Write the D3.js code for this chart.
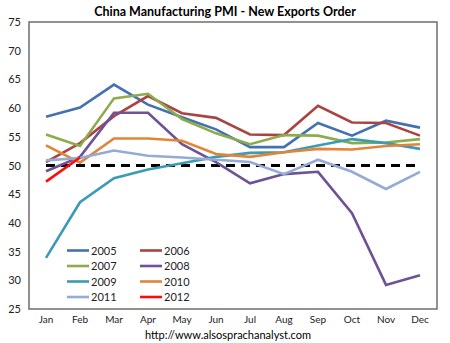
<!DOCTYPE html>
<html>
<head>
<meta charset="utf-8">
<script src="https://cdn.jsdelivr.net/npm/d3@7"></script>
<style>
  html, body { margin: 0; padding: 0; background: #fff; }
  svg { display: block; }
  text { font-family: Lato, "Open Sans", sans-serif; fill: #222; }
</style>
</head>
<body>
<svg id="chart" width="450" height="343"></svg>
<script>
// China manufacturing PMI, new export orders sub-index, by month and year
const months = ["Jan", "Feb", "Mar", "Apr", "May", "Jun", "Jul", "Aug", "Sep", "Oct", "Nov", "Dec"];
const yTicks = [25, 30, 35, 40, 45, 50, 55, 60, 65, 70, 75];

const s2005 = [58.5, 60.1, 64.1, 60.6, 58.4, 56.3, 53.2, 53.2, 57.4, 55.2, 57.8, 56.6];
const s2006 = [50.6, 53.9, 58.6, 62.1, 59.1, 58.3, 55.4, 55.3, 60.4, 57.5, 57.4, 55.2];
const s2007 = [55.4, 53.4, 61.7, 62.5, 58.1, 55.6, 53.7, 55.3, 55.2, 53.9, 54.0, 54.6];
const s2008 = [49.0, 51.5, 59.2, 59.2, 53.7, 50.6, 46.9, 48.5, 48.9, 41.7, 29.2, 30.9];
const s2009 = [33.9, 43.6, 47.8, 49.3, 50.4, 51.5, 52.2, 52.3, 53.5, 54.6, 53.9, 52.9];
const s2010 = [53.5, 50.5, 54.7, 54.7, 54.3, 52.0, 51.5, 52.3, 52.9, 52.8, 53.4, 53.7];
const s2011 = [50.9, 51.3, 52.6, 51.7, 51.4, 51.0, 50.6, 48.5, 51.0, 48.9, 45.9, 48.9];
const s2012 = [47.2, 51.4];
const threshold = 50;

const series = [
  { name: "2005", values: s2005, color: "#4471b0" },
  { name: "2006", values: s2006, color: "#ab4441" },
  { name: "2007", values: s2007, color: "#8cac4c" },
  { name: "2008", values: s2008, color: "#6d5296" },
  { name: "2009", values: s2009, color: "#3c9bb3" },
  { name: "2010", values: s2010, color: "#e0853a" },
  { name: "2011", values: s2011, color: "#93abd6" },
  { name: "2012", values: s2012, color: "#ff0a0a" }
];

const svg = d3.select("#chart");
const plot = { left: 29, right: 437, top: 22, bottom: 309 };

const x = d3.scaleBand().domain(months).range([plot.left, plot.right]);
const y = d3.scaleLinear().domain([25, 75]).range([plot.bottom, plot.top]);
const cx = m => x(m) + x.bandwidth() / 2;

// Title
svg.append("text")
  .attr("x", 225).attr("y", 16)
  .attr("text-anchor", "middle")
  .style("font-weight", "bold").style("font-size", "12.5px")
  .style("fill", "#000")
  .text("China Manufacturing PMI - New Exports Order");

// Plot frame
svg.append("rect")
  .attr("x", plot.left).attr("y", plot.top)
  .attr("width", plot.right - plot.left).attr("height", plot.bottom - plot.top)
  .attr("fill", "none").attr("stroke", "#6e6e6e").attr("stroke-width", 1.5);

// Y axis labels
const yAxis = d3.axisLeft(y).tickValues(yTicks).tickSize(0).tickPadding(8);
svg.append("g").attr("transform", `translate(${plot.left},0)`).call(yAxis)
  .call(g => g.select(".domain").remove())
  .selectAll("text").style("font-size", "11px").style("font-family", "Lato, sans-serif").attr("fill", "#222");

// X axis labels
const xAxis = d3.axisBottom(x).tickSize(0).tickPadding(7);
svg.append("g").attr("transform", `translate(0,${plot.bottom})`).call(xAxis)
  .call(g => g.select(".domain").remove())
  .selectAll("text").style("font-size", "10px").style("font-family", "Lato, sans-serif").attr("fill", "#222");

// 50 = expansion / contraction threshold
svg.append("line")
  .attr("x1", cx(months[0])).attr("x2", cx(months[months.length - 1]))
  .attr("y1", y(threshold)).attr("y2", y(threshold))
  .attr("stroke", "#000").attr("stroke-width", 3)
  .attr("stroke-dasharray", "9,6");

// Series lines
const line = d3.line()
  .x((d, i) => cx(months[i]))
  .y(d => y(d));

svg.append("g").selectAll("path")
  .data(series)
  .join("path")
  .attr("d", d => line(d.values))
  .attr("fill", "none")
  .attr("stroke", d => d.color)
  .attr("stroke-width", 2.6)
  .attr("stroke-linejoin", "miter");

// Legend, two columns
const legend = svg.append("g");
const legendRows = [250.5, 266, 281.5, 297];
series.forEach((s, i) => {
  const col = i % 2, row = Math.floor(i / 2);
  const lx = col === 0 ? 67 : 140;
  const ly = legendRows[row];
  legend.append("line")
    .attr("x1", lx).attr("x2", lx + 22)
    .attr("y1", ly).attr("y2", ly)
    .attr("stroke", s.color).attr("stroke-width", 2.6);
  legend.append("text")
    .attr("x", lx + 24).attr("y", ly + 4)
    .style("font-size", "11px")
    .text(s.name);
});

// Source
svg.append("text")
  .attr("x", 228).attr("y", 338.5)
  .attr("text-anchor", "middle")
  .style("font-size", "11px").style("fill", "#000")
  .text("http://www.alsosprachanalyst.com");
</script>
</body>
</html>
